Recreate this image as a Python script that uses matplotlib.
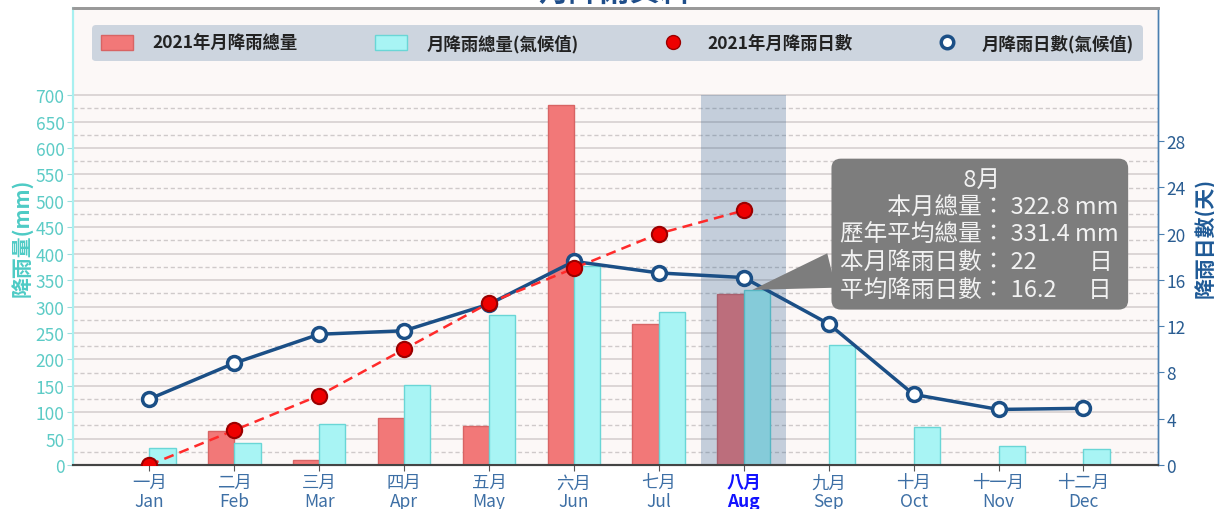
import numpy as np
import matplotlib
matplotlib.use('Agg')
import matplotlib.pyplot as plt
from matplotlib.lines import Line2D
from matplotlib.patches import Patch
from matplotlib.ticker import FixedLocator

plt.rcParams['font.family'] = ['Noto Sans CJK TC', 'DejaVu Sans']

# data
months_zh = ['一月', '二月', '三月', '四月', '五月', '六月',
             '七月', '八月', '九月', '十月', '十一月', '十二月']
months_en = ['Jan', 'Feb', 'Mar', 'Apr', 'May', 'Jun',
             'Jul', 'Aug', 'Sep', 'Oct', 'Nov', 'Dec']
rain_2021 = [0, 64, 10, 89, 74, 681, 267, 322.8]              # mm, Jan-Aug
rain_normal = [32, 42, 78, 151, 284, 376, 289, 331.4, 227, 72, 36, 30]
days_2021 = [0, 3, 6, 10, 14, 17, 20, 22]
days_normal = [5.7, 8.8, 11.3, 11.6, 13.9, 17.6, 16.6, 16.2, 12.2, 6.1, 4.8, 4.9]
current = 7  # August

x = np.arange(len(months_zh))
x21 = np.arange(len(rain_2021))
bar_w = 0.31

fig = plt.figure(figsize=(12.14, 5.10), dpi=100)
ax = fig.add_axes([0.060, 0.0863, 0.894, 0.896])
ax.set_facecolor('#fcf8f7')
ax2 = ax.twinx()

# bars
ax.bar(x21 - bar_w / 2, rain_2021, bar_w, color='#f27878', edgecolor='#d86464',
       linewidth=1, zorder=3)
ax.bar(x + bar_w / 2, rain_normal, bar_w, color='#a8f4f4', edgecolor='#6ad6d6',
       linewidth=1, zorder=3)

ymax_mm = 865
ax.set_ylim(0, ymax_mm)
ax.set_xlim(-0.9, 11.88)

# highlight current month
ax.axvspan(current - 0.5, current + 0.5, ymin=0, ymax=700 / ymax_mm,
           color='#1d548a', alpha=0.25, linewidth=0, zorder=4)

# grid
ax.yaxis.set_major_locator(FixedLocator(np.arange(0, 701, 50)))
ax.yaxis.set_minor_locator(FixedLocator(np.arange(25, 700, 50)))
ax.grid(axis='y', which='major', color='#d6d0d0', linewidth=1.2, zorder=0)
ax.grid(axis='y', which='minor', color='#cfcaca', linewidth=1, linestyle=(0, (3, 2)), zorder=0)
ax.set_axisbelow(True)

# lines on day axis
ax2.set_ylim(0, ymax_mm / 21.9)
ax2.plot(x, days_normal, color='#1b4f86', linewidth=2.5, marker='o', markersize=10,
         markerfacecolor='white', markeredgecolor='#1b4f86', markeredgewidth=2.5, zorder=5)
ax2.plot(x21, days_2021, color='#ff2a2a', linewidth=1.8, linestyle=(0, (4, 2.5)),
         marker='o', markersize=11, markerfacecolor='#ee0000', markeredgecolor='#9a0000',
         markeredgewidth=1.5, zorder=6)
ax2.set_yticks(np.arange(0, 29, 4))

# ticks and labels
ax.set_xticks(x)
ax.set_xticklabels([f'{z}\n{e}' for z, e in zip(months_zh, months_en)],
                   fontsize=12.5, linespacing=1.05)
for i, lbl in enumerate(ax.get_xticklabels()):
    if i == current:
        lbl.set_color('#1212ff')
        lbl.set_fontweight('bold')
    else:
        lbl.set_color('#3d6fa5')
ax.tick_params(axis='x', length=4, color='#555555', pad=2)
ax.tick_params(axis='y', which='major', labelsize=12.5, labelcolor='#5ccbc6',
               color='#9fdede', length=4, pad=2)
ax.tick_params(axis='y', which='minor', length=0)
ax2.tick_params(axis='y', labelsize=12.5, labelcolor='#2a5d92', color='#4a7fb0',
                length=4, pad=2)

ax.set_ylabel('降雨量(mm)', color='#4ecbc5', fontsize=15, fontweight='bold', labelpad=2)
ax2.set_ylabel('降雨日數(天)', color='#1f5a96', fontsize=15, fontweight='bold', labelpad=6)

# spines
for a in (ax, ax2):
    a.spines['top'].set_color('#999999')
    a.spines['top'].set_linewidth(2)
    a.spines['left'].set_color('#a8f0f0')
    a.spines['left'].set_linewidth(1.5)
    a.spines['right'].set_color('#4a7fb0')
    a.spines['right'].set_linewidth(1)
    a.spines['bottom'].set_color('#444444')
    a.spines['bottom'].set_linewidth(1.5)

# legend
handles = [
    Patch(facecolor='#f27878', edgecolor='#d86464'),
    Patch(facecolor='#a8f4f4', edgecolor='#6ad6d6'),
    Line2D([], [], linestyle='none', marker='o', markersize=10,
           markerfacecolor='#ee0000', markeredgecolor='#9a0000'),
    Line2D([], [], linestyle='none', marker='o', markersize=9,
           markerfacecolor='white', markeredgecolor='#1b4f86', markeredgewidth=2.5),
]
labels = ['2021年月降雨總量', '月降雨總量(氣候值)', '2021年月降雨日數', '月降雨日數(氣候值)']
leg = ax2.legend(handles, labels, ncol=4, loc='lower left', mode='expand',
                 bbox_to_anchor=(0.018, 0.884, 0.968, 0.074), borderaxespad=0,
                 prop={'weight': 'bold', 'size': 12.5}, frameon=True, fancybox=True,
                 facecolor='#cdd5df', edgecolor='none', framealpha=1,
                 handlelength=1.85, handleheight=0.9, borderpad=0.5, handletextpad=1.1)
for t in leg.get_texts():
    t.set_color('#222222')

# tooltip box
info = ('　　　　　 8月\n'
        '　　本月總量： 322.8 mm\n'
        '歷年平均總量： 331.4 mm\n'
        '本月降雨日數： 22          日\n'
        '平均降雨日數： 16.2      日')
ax2.annotate(info, xy=(current + 0.1, rain_normal[current]), xycoords=ax.transData,
             xytext=(9.78, 437), textcoords=ax.transData, ha='center', va='center',
             multialignment='left', fontsize=17, color='#f2f2f2', linespacing=1.25,
             bbox=dict(boxstyle='round,pad=0.38,rounding_size=0.4', fc='#7d7d7d', ec='none'),
             arrowprops=dict(arrowstyle='wedge,tail_width=1.5', fc='#7d7d7d', ec='none',
                             shrinkA=0, shrinkB=0), zorder=10)

fig.text(0.506, 0.984, '月降雨資料', ha='center', va='bottom', fontsize=22,
         fontweight='bold', color='#1f4e8a')

fig.savefig('out.png', dpi=100)
